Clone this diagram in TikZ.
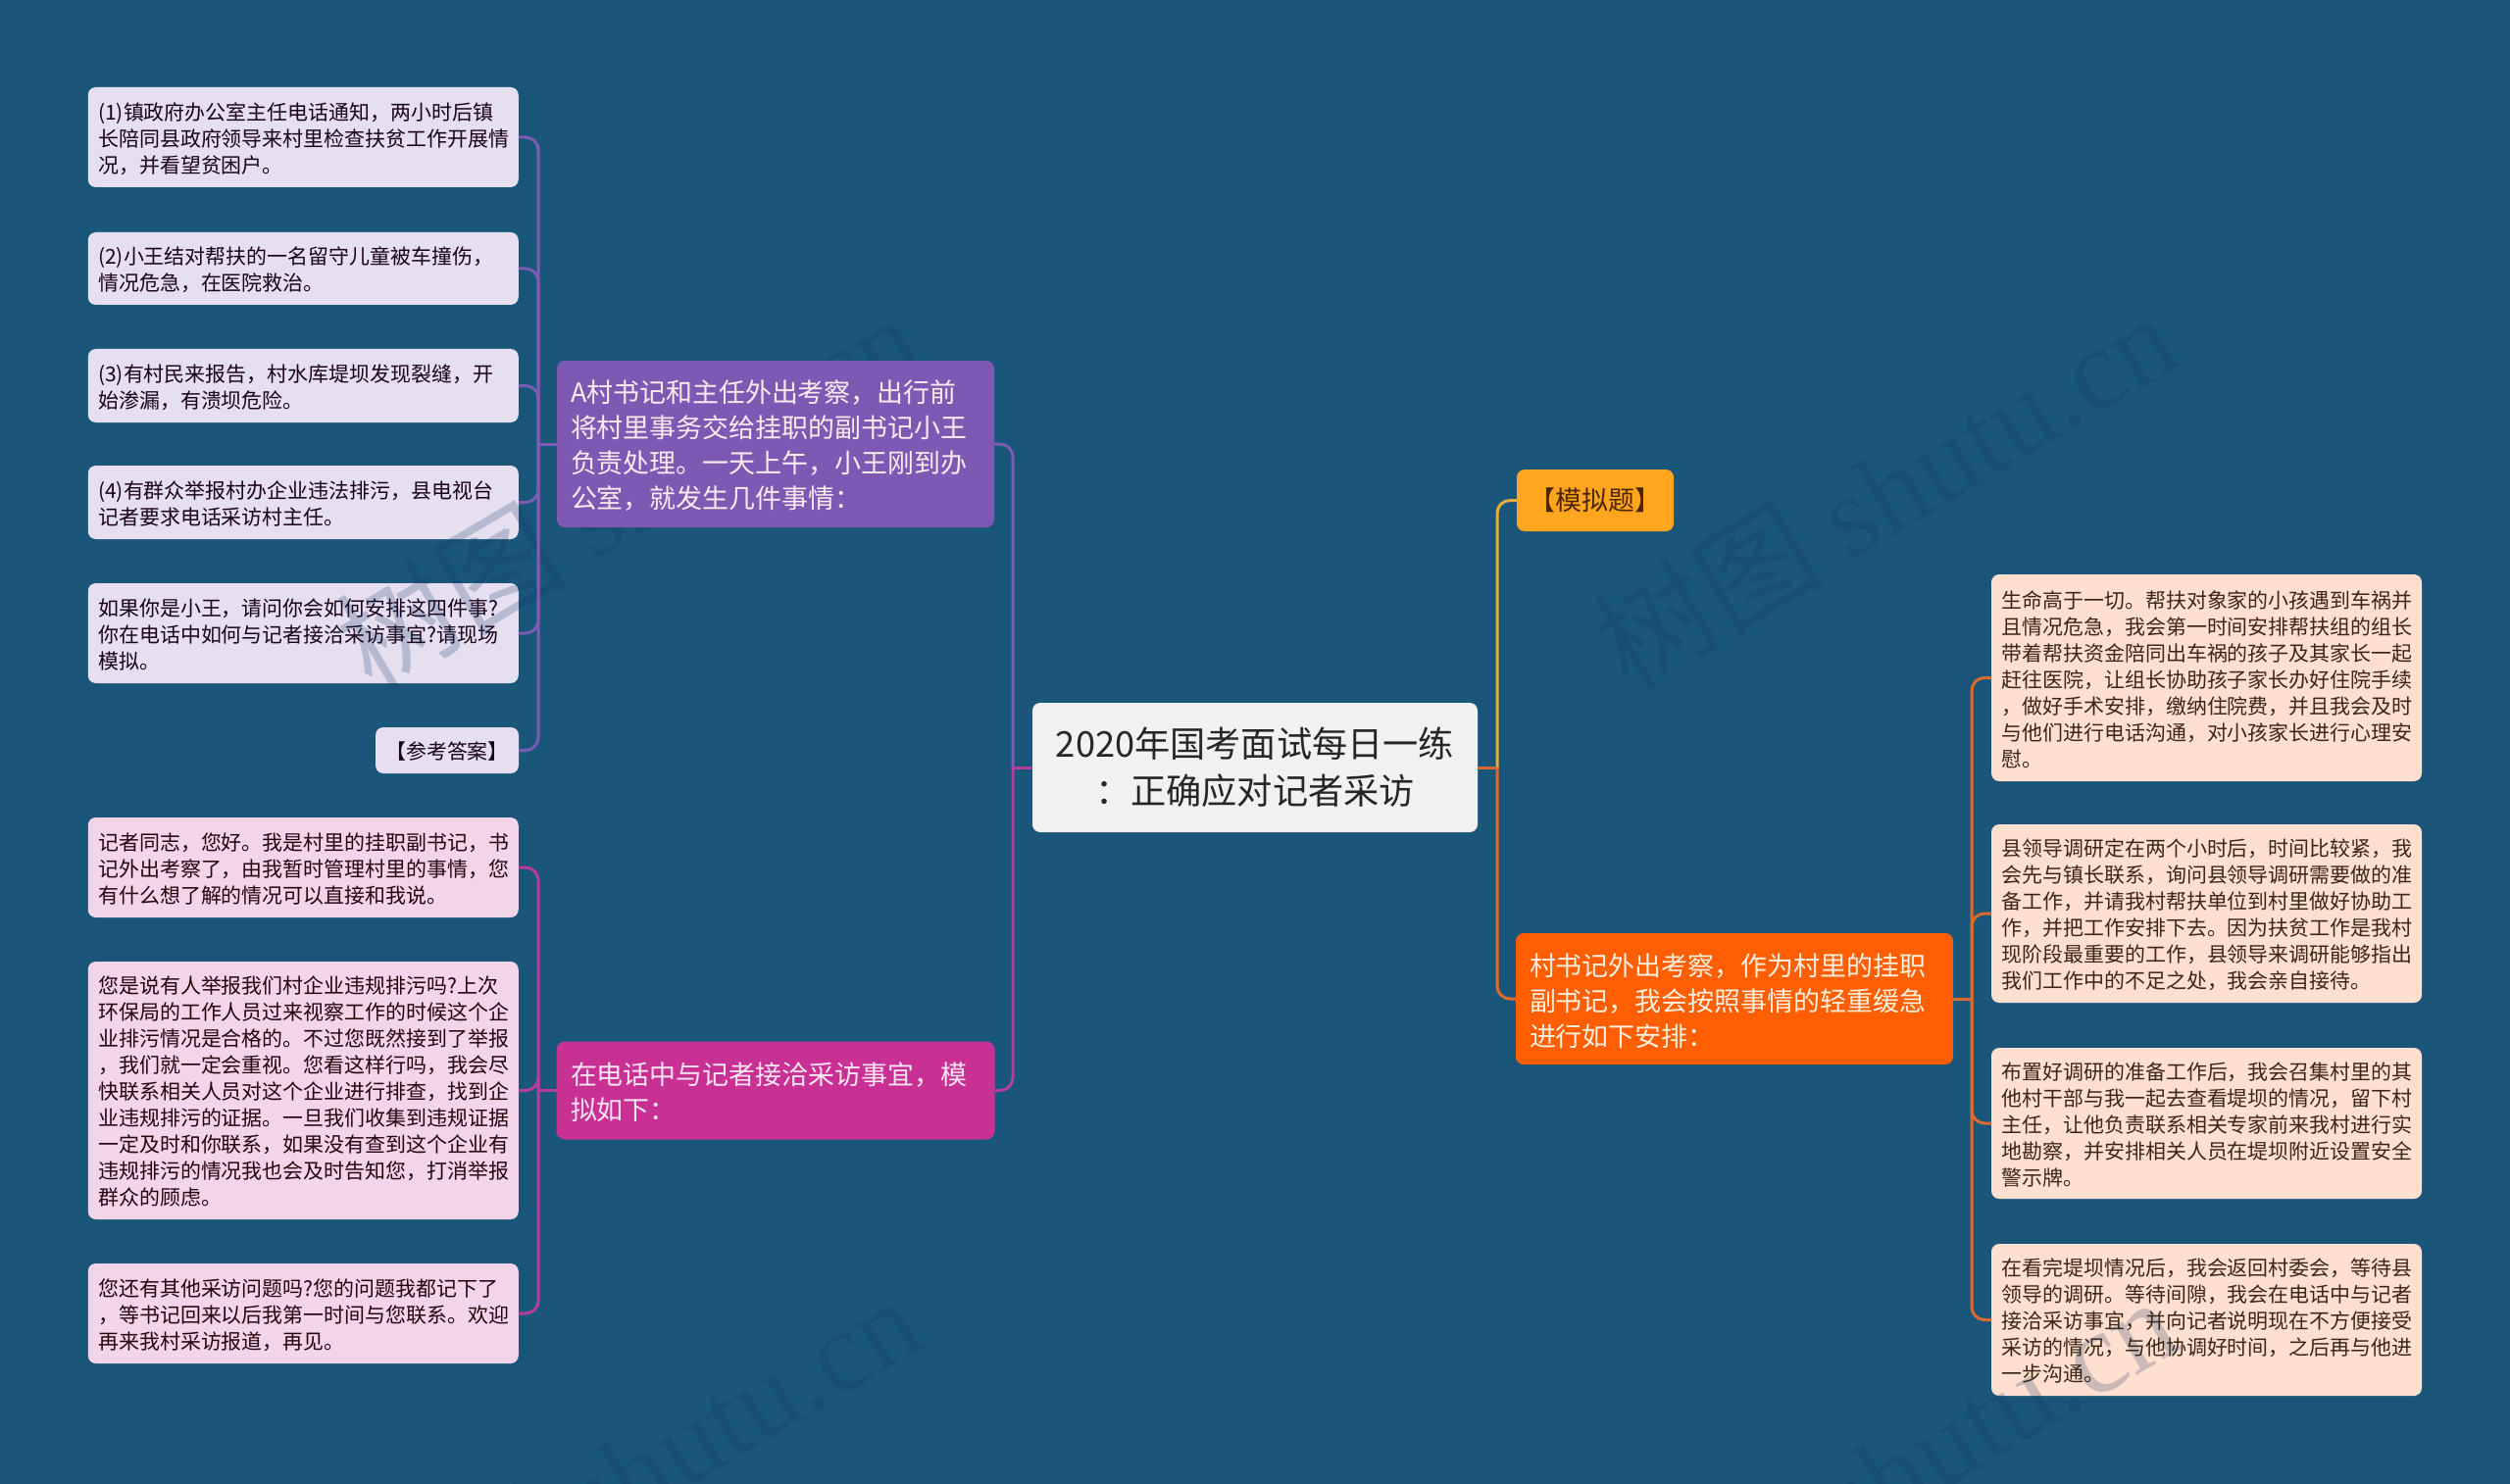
\documentclass[tikz,border=0pt]{standalone}
\usepackage{fontspec}
\setmainfont{Noto Sans CJK SC}
\newfontfamily\wmlat{Liberation Serif}
\definecolor{bgblue}{HTML}{1A567A}
\definecolor{cpurple}{HTML}{7B5CB4}
\definecolor{cpink}{HTML}{B83C9C}
\definecolor{cyellow}{HTML}{E3AE3C}
\definecolor{corange}{HTML}{DD6A2E}
\definecolor{LP}{HTML}{E5DFF0}
\definecolor{LK}{HTML}{F3D5EA}
\definecolor{LO}{HTML}{FFDFD0}
\definecolor{BP}{HTML}{7D59B3}
\definecolor{BK}{HTML}{C93094}
\definecolor{BO}{HTML}{FF5E03}
\definecolor{BY}{HTML}{FFA61E}
\definecolor{RT}{HTML}{F1F1F1}
\definecolor{WM}{HTML}{12365E}
\tikzset{
  x=1pt,y=-1pt,
  basebox/.style={rounded corners=8pt,inner sep=0pt,align=left},
  leaf/.style={basebox,font=\fontsize{20.95}{27}\selectfont,minimum width=439pt,text width=418pt,execute at begin node={\rule{0pt}{20.5pt}}},
  branch/.style={basebox,font=\fontsize{26.95}{36}\selectfont,minimum width=446pt,text width=418pt,execute at begin node={\rule{0pt}{26.8pt}}},
  lp/.style={leaf,fill=LP,text=black!80!violet},
  lk/.style={leaf,fill=LK,text=black!80!purple},
  lo/.style={leaf,fill=LO,text=black!70!brown},
  conn/.style={line width=3pt},
  elbow/.style={line width=3pt,rounded corners=13pt},
  wm/.style={rotate=30.7,anchor=base east,text=WM,text opacity=0.22,font=\fontsize{118}{118}\selectfont,inner sep=0pt}
}
\begin{document}
\begin{tikzpicture}
\useasboundingbox[fill=bgblue] (0,0) rectangle (2560,1514);
% root
\node[basebox,fill=RT,text=black!85,align=center,font=\fontsize{36.2}{48}\selectfont,minimum width=454pt,minimum height=132pt] (root) at (1280,783)
  {2020年国考面试每日一练\\：正确应对记者采访};
% left purple leaves
\node[lp,minimum height=102pt] (L1) at (309.25,140) {(1)镇政府办公室主任电话通知，两小时后镇\\长陪同县政府领导来村里检查扶贫工作开展情\\况，并看望贫困户。};
\node[lp,minimum height=74pt] (L2) at (309.25,274) {(2)小王结对帮扶的一名留守儿童被车撞伤，\\情况危急，在医院救治。};
\node[lp,minimum height=75pt] (L3) at (309.25,393.5) {(3)有村民来报告，村水库堤坝发现裂缝，开\\始渗漏，有溃坝危险。};
\node[lp,minimum height=75pt] (L4) at (309.25,512.5) {(4)有群众举报村办企业违法排污，县电视台\\记者要求电话采访村主任。};
\node[lp,minimum height=102pt] (L5) at (309.25,646) {如果你是小王，请问你会如何安排这四件事?\\你在电话中如何与记者接洽采访事宜?请现场\\模拟。};
\node[basebox,fill=LP,text=black!80!violet,align=center,font=\fontsize{20.95}{27}\selectfont,minimum width=146pt,minimum height=47pt] (L6) at (456,765.5) {\rule{0pt}{20.5pt}【参考答案】};
% left pink leaves
\node[lk,minimum height=102pt] (K1) at (309.25,885) {记者同志，您好。我是村里的挂职副书记，书\\记外出考察了，由我暂时管理村里的事情，您\\有什么想了解的情况可以直接和我说。};
\node[lk,minimum height=263pt] (K2) at (309.25,1112.5) {您是说有人举报我们村企业违规排污吗?上次\\环保局的工作人员过来视察工作的时候这个企\\业排污情况是合格的。不过您既然接到了举报\\，我们就一定会重视。您看这样行吗，我会尽\\快联系相关人员对这个企业进行排查，找到企\\业违规排污的证据。一旦我们收集到违规证据\\一定及时和你联系，如果没有查到这个企业有\\违规排污的情况我也会及时告知您，打消举报\\群众的顾虑。};
\node[lk,minimum height=102pt] (K3) at (309.25,1340) {您还有其他采访问题吗?您的问题我都记下了\\，等书记回来以后我第一时间与您联系。欢迎\\再来我村采访报道，再见。};
% right leaves
\node[lo,minimum height=211pt] (R1) at (2250.5,691.5) {生命高于一切。帮扶对象家的小孩遇到车祸并\\且情况危急，我会第一时间安排帮扶组的组长\\带着帮扶资金陪同出车祸的孩子及其家长一起\\赶往医院，让组长协助孩子家长办好住院手续\\，做好手术安排，缴纳住院费，并且我会及时\\与他们进行电话沟通，对小孩家长进行心理安\\慰。};
\node[lo,minimum height=182pt] (R2) at (2250.5,932) {县领导调研定在两个小时后，时间比较紧，我\\会先与镇长联系，询问县领导调研需要做的准\\备工作，并请我村帮扶单位到村里做好协助工\\作，并把工作安排下去。因为扶贫工作是我村\\现阶段最重要的工作，县领导来调研能够指出\\我们工作中的不足之处，我会亲自接待。};
\node[lo,minimum height=154pt] (R3) at (2250.5,1146) {布置好调研的准备工作后，我会召集村里的其\\他村干部与我一起去查看堤坝的情况，留下村\\主任，让他负责联系相关专家前来我村进行实\\地勘察，并安排相关人员在堤坝附近设置安全\\警示牌。};
\node[lo,minimum height=155pt] (R4) at (2250.5,1346.5) {在看完堤坝情况后，我会返回村委会，等待县\\领导的调研。等待间隙，我会在电话中与记者\\接洽采访事宜，并向记者说明现在不方便接受\\采访的情况，与他协调好时间，之后再与他进\\一步沟通。};
% watermark
\foreach \nm/\cx/\cy in {w1/946/370,w2/2228/370,w3/947/1372,w4/2228/1374}
  \node[wm] (\nm) at (\cx,\cy) {树图 {\wmlat shutu.cn}};
% branches
\node[branch,fill=BP,text=white!92!purple,minimum height=170pt] (A) at (791,453)
  {A村书记和主任外出考察，出行前\\将村里事务交给挂职的副书记小王\\负责处理。一天上午，小王刚到办\\公室，就发生几件事情：};
\node[branch,fill=BK,draw=cpink,line width=1pt,text=white!90!magenta,minimum height=99pt] (P) at (791,1112.5)
  {在电话中与记者接洽采访事宜，模\\拟如下：};
\node[basebox,fill=BY,text=black!70!orange,align=center,font=\fontsize{26.95}{36}\selectfont,minimum width=160pt,minimum height=63pt] (Y) at (1627,510.5) {【模拟题】};
\node[branch,fill=BO,text=white!88!orange,minimum height=134pt] (O) at (1769,1019)
  {村书记外出考察，作为村里的挂职\\副书记，我会按照事情的轻重缓急\\进行如下安排：};
% junctions
\coordinate (jL) at (1033,783);
\coordinate (jR) at (1527,783);
\coordinate (jA) at (549,453);
\coordinate (jP) at (549,1112.5);
\coordinate (jO) at (2011,1019);
% connectors
\draw[elbow,cpurple] (jL) |- (A.east);
\draw[elbow,cpink] (jL) |- (P.east);
\draw[conn,cpink] (root.west) -- (jL);
\draw[elbow,cyellow] (jR) |- (Y.west);
\draw[elbow,corange] (jR) |- (O.west);
\draw[conn,corange] (root.east) -- (jR);
\draw[conn,cpurple] (A.west) -- (jA);
\foreach \n in {L1,L2,L3,L4,L5,L6} \draw[elbow,cpurple] (jA) |- (\n.east);
\draw[conn,cpink] (P.west) -- (jP);
\foreach \n in {K1,K2,K3} \draw[elbow,cpink] (jP) |- (\n.east);
\draw[conn,corange] (O.east) -- (jO);
\foreach \n in {R1,R2,R3,R4} \draw[elbow,corange] (jO) |- (\n.west);
\end{tikzpicture}
\end{document}
